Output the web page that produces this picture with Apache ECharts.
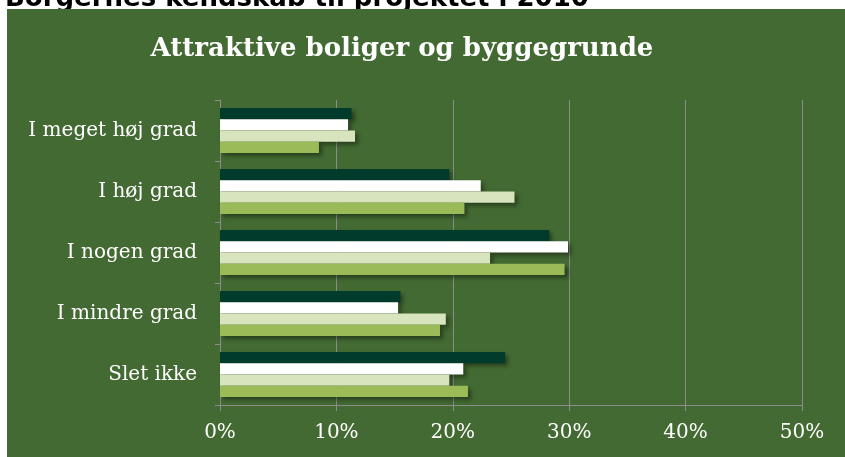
<!doctype html>
<html>
<head>
<meta charset="utf-8">
<title>Attraktive boliger og byggegrunde</title>
<script src="https://cdn.jsdelivr.net/npm/echarts@6/dist/echarts.min.js"></script>
<style>
html, body { margin: 0; padding: 0; background: #fff; }
#main { width: 845px; height: 457px; }
</style>
</head>
<body>
<div id="main"></div>
<script>
// data (percent)
var categories = ['I meget høj grad', 'I høj grad', 'I nogen grad', 'I mindre grad', 'Slet ikke'];
var serie1 = [11.3, 19.7, 28.3, 15.5, 24.5];
var serie2 = [11.0, 22.4, 29.9, 15.3, 20.9];
var serie3 = [11.6, 25.3, 23.2, 19.4, 19.7];
var serie4 = [8.5, 21.0, 29.6, 18.9, 21.3];
var xTicks = [0, 10, 20, 30, 40, 50];

var serif = '"DejaVu Serif", "Liberation Serif", serif';
var shadow = { shadowBlur: 4, shadowOffsetX: 3, shadowOffsetY: 3, shadowColor: 'rgba(0,0,0,0.4)' };

function bar(name, data, color) {
    return {
        name: name,
        type: 'bar',
        data: data,
        barGap: '0%',
        barCategoryGap: '26%',
        itemStyle: Object.assign({ color: color }, shadow)
    };
}

var myChart = echarts.init(document.getElementById('main'));
var option = {
    backgroundColor: '#ffffff',
    animation: false,
    graphic: [
        {
            type: 'text', z: -20, x: 5, y: 12,
            style: { text: 'Borgernes kendskab til projektet i 2010', font: 'bold 26px "DejaVu Sans"', fill: '#000', verticalAlign: 'bottom' }
        },
        {
            type: 'rect', z: -10,
            shape: { x: 7, y: 9, width: 838, height: 448 },
            style: { fill: '#436a32' }
        }
    ],
    title: {
        text: 'Attraktive boliger og byggegrunde',
        left: 397, top: 31, textAlign: 'center',
        textStyle: { color: '#fff', fontFamily: serif, fontWeight: 'bold', fontSize: 26 }
    },
    grid: { left: 220, right: 43, top: 100, bottom: 52 },
    xAxis: {
        type: 'value',
        min: xTicks[0], max: xTicks[xTicks.length - 1], interval: 10,
        axisLine: { show: true, lineStyle: { color: '#8c8c8c' } },
        axisTick: { show: true, length: 6, lineStyle: { color: '#8c8c8c' } },
        splitLine: { show: true, lineStyle: { color: '#8c8c8c' } },
        axisLabel: { formatter: '{value}%', color: '#fff', fontFamily: serif, fontSize: 20, margin: 18 }
    },
    yAxis: {
        type: 'category',
        data: categories,
        inverse: true,
        axisLine: { show: true, lineStyle: { color: '#8c8c8c' } },
        axisTick: { show: true, length: 5, lineStyle: { color: '#8c8c8c' } },
        axisLabel: { color: '#fff', fontFamily: serif, fontSize: 20, margin: 23 }
    },
    series: [
        bar('Serie 1', serie1, '#003b2c'),
        bar('Serie 2', serie2, '#ffffff'),
        bar('Serie 3', serie3, '#d8e4bd'),
        bar('Serie 4', serie4, '#9bbb59')
    ]
};
myChart.setOption(option);
</script>
</body>
</html>
